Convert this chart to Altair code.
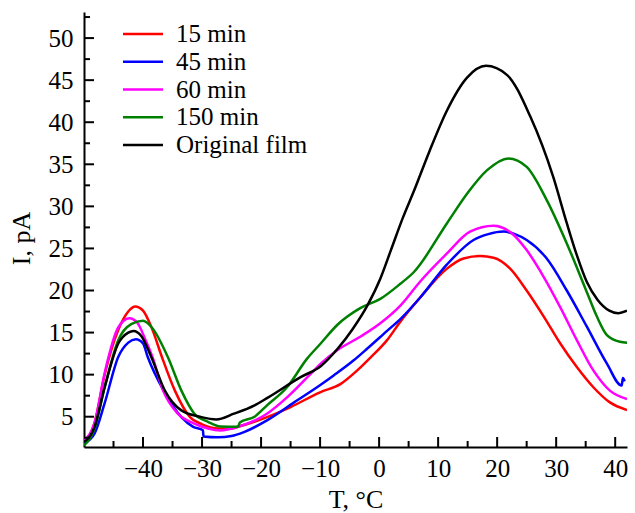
import altair as alt
import pandas as pd

series_names = ["15 min", "45 min", "60 min", "150 min", "Original film"]
series_colors = ["#ff0000", "#0000ff", "#ff00ff", "#008000", "#000000"]

t_15 = [-50, -48.2, -46.5, -44.2, -42.5, -41.3, -40, -38.5, -36.8, -34.6, -32.1, -30, -27.3, -25, -23.9,
        -19, -15, -10, -6.5, -3.7, -1.5, 1.35, 3.6, 7.0, 11.5, 14.3, 17.1, 19.4, 22.2, 25.0, 27.9,
        30.7, 33.5, 36.3, 39.1, 42.0]
i_15 = [2.0, 4.3, 10.0, 15.3, 17.5, 18.1, 17.6, 15.5, 12.1, 8.1, 5.0, 4.1, 3.6, 3.6, 3.8,
        4.95, 6.15, 7.9, 8.9, 10.5, 12.0, 14.1, 16.3, 19.2, 22.6, 23.8, 24.1, 23.9, 22.6, 20.0, 16.9,
        13.7, 10.9, 8.5, 6.7, 5.8]

t_45 = [-50, -48.2, -46.5, -44.2, -42.5, -41.2, -40, -39.2, -36.5, -33.5, -31.5, -29.85, -29.75, -27.3, -25,
        -22.9, -19, -14.4, -9.9, -7.7, -4.3, -2.0, 1.35, 3.6, 7.0, 11.5, 16.0, 18.5, 21.1, 23, 25.0,
        28.4, 31.8, 35.2, 38.6, 41.1, 41.3, 41.6]
i_45 = [1.8, 3.0, 6.6, 12.1, 13.8, 14.2, 13.7, 12.1, 8.1, 4.95, 3.8, 3.4, 2.65, 2.55, 2.7,
        3.17, 4.56, 6.7, 8.8, 9.9, 11.7, 13.1, 15.2, 16.6, 19.2, 23.1, 26.0, 26.7, 27.0, 26.7, 26.0,
        23.8, 20.0, 15.7, 11.3, 8.7, 9.6, 9.2]

t_60 = [-50, -48.2, -46.5, -44.2, -42.3, -41, -39.5, -38.4, -36.6, -34.1, -31.3, -29, -26.9, -23.9,
        -19, -15.6, -11.6, -9.9, -7.1, -3.2, 0.2, 3.6, 7.0, 11.5, 15.4, 19.4, 22.8, 25.0, 27.9,
        30.7, 33.5, 36.3, 39.1, 42.0]
i_60 = [2.2, 4.3, 10.2, 15.6, 16.7, 16.2, 14.0, 12.1, 8.1, 5.36, 4.17, 3.6, 3.37, 3.8,
        5.36, 7.3, 10.1, 11.3, 12.9, 14.5, 16.1, 18.2, 21.1, 24.4, 27.0, 27.7, 26.6, 24.8, 21.6,
        18.0, 14.1, 10.5, 8.1, 7.1]

t_150 = [-50, -48.2, -46.5, -44.2, -42, -40.0, -38.5, -35.8, -33.5, -31.3, -29, -26.9, -23.9, -23.6,
         -21.1, -19, -15.6, -12.2, -9.9, -7.1, -3.2, 0.2, 3.6, 5.9, 11.5, 14.9, 18.3, 21.9, 25.0,
         28.4, 31.8, 35.2, 36.9, 38.6, 40.8, 42.0]
i_150 = [1.6, 3.6, 8.5, 14.1, 16.0, 16.4, 15.6, 12.1, 8.1, 5.36, 4.4, 3.85, 3.8, 4.3,
         5.0, 6.35, 8.5, 11.9, 13.7, 15.9, 17.9, 19.0, 20.8, 22.2, 28.0, 31.5, 34.3, 35.7, 34.7,
         30.75, 25.6, 19.8, 16.9, 14.7, 13.9, 13.8]

t_orig = [-50, -48.2, -46.5, -44.2, -42.5, -41.6, -40.3, -38.6, -36.3, -33.5, -30.1, -27.6, -24.6,
          -21.1, -19.0, -13.3, -9.9, -7.0, -4.5, -2.0, 0.2, 2.0, 4.0, 6.0, 8.5, 11.5, 14.9,
          18.1, 21.7, 25.6, 29.5, 31.8, 33.5, 35.2, 37.0, 39.0, 40.5, 42.0]
i_orig = [2.0, 3.8, 8.5, 13.7, 15.0, 15.2, 14.6, 12.1, 8.1, 5.75, 4.95, 4.68, 5.36,
          6.35, 7.2, 9.7, 11.0, 13.1, 15.4, 18.2, 21.4, 24.8, 28.6, 32.0, 36.5, 41.4, 45.3,
          46.7, 45.6, 40.7, 33.5, 28.0, 24.2, 21.0, 18.9, 17.6, 17.3, 17.6]

x_major = [-40, -30, -20, -10, 0, 10, 20, 30, 40]
x_minor = [-45, -35, -25, -15, -5, 5, 15, 25, 35]
y_major = [5, 10, 15, 20, 25, 30, 35, 40, 45, 50]
y_minor = [2.5, 7.5, 12.5, 17.5, 22.5, 27.5, 32.5, 37.5, 42.5, 47.5, 52.5]

rows = []
for name, ts, vs in zip(series_names, [t_15, t_45, t_60, t_150, t_orig],
                        [i_15, i_45, i_60, i_150, i_orig]):
    for k, (t, v) in enumerate(zip(ts, vs)):
        rows.append({"series": name, "T": t, "I": v, "idx": k})
df = pd.DataFrame(rows)

W, H = 543, 435
FONT = "Liberation Serif"

x_scale = alt.Scale(domain=[-50, 42], nice=False, zero=False)
y_scale = alt.Scale(domain=[1.4, 53.1], nice=False, zero=False)

x_axis = alt.Axis(values=x_major, ticks=False, grid=False, title="T, °C",
                  labelFont=FONT, labelFontSize=25, labelColor="black", labelPadding=9,
                  domainColor="black", domainWidth=2,
                  titleFont=FONT, titleFontSize=26, titleFontWeight="normal",
                  titleColor="black", titleBaseline="alphabetic", titleY=60,
                  titleX=W / 2, titleAlign="center")
y_axis = alt.Axis(values=y_major, ticks=False, grid=False, title="I, pA",
                  labelFont=FONT, labelFontSize=25, labelColor="black", labelPadding=11,
                  domainColor="black", domainWidth=2,
                  titleFont=FONT, titleFontSize=26, titleFontWeight="normal",
                  titleColor="black", titleBaseline="alphabetic", titleAngle=270,
                  titleX=-55, titleY=226, titleAlign="center")

lines = alt.Chart(df).mark_line(strokeWidth=2.5, clip=True, interpolate="monotone").encode(
    x=alt.X("T:Q", scale=x_scale, axis=x_axis),
    y=alt.Y("I:Q", scale=y_scale, axis=y_axis),
    color=alt.Color("series:N",
                    scale=alt.Scale(domain=series_names, range=series_colors),
                    legend=alt.Legend(title=None, orient="none", legendX=37.5, legendY=9.5,
                                      symbolType="stroke", symbolSize=1600, symbolStrokeWidth=2.5,
                                      clipHeight=25, rowPadding=1.75, padding=0,
                                      labelFont=FONT, labelFontSize=25, labelColor="black",
                                      labelOffset=11.5, labelLimit=400)),
    order=alt.Order("idx:Q"),
)

xmaj = alt.Chart(pd.DataFrame({"T": x_major})).mark_rule(color="black", strokeWidth=2).encode(
    x=alt.X("T:Q", scale=x_scale, axis=x_axis), y=alt.value(H), y2=alt.value(H - 10))
xmin = alt.Chart(pd.DataFrame({"T": x_minor})).mark_rule(color="black", strokeWidth=2).encode(
    x=alt.X("T:Q", scale=x_scale, axis=x_axis), y=alt.value(H), y2=alt.value(H - 6))
ymaj = alt.Chart(pd.DataFrame({"I": y_major})).mark_rule(color="black", strokeWidth=2).encode(
    y=alt.Y("I:Q", scale=y_scale, axis=y_axis), x=alt.value(0), x2=alt.value(10))
ymin = alt.Chart(pd.DataFrame({"I": y_minor})).mark_rule(color="black", strokeWidth=2).encode(
    y=alt.Y("I:Q", scale=y_scale, axis=y_axis), x=alt.value(0), x2=alt.value(6))

chart = alt.layer(lines, xmaj, xmin, ymaj, ymin).properties(
    width=W, height=H,
    padding={"left": 84, "top": 12, "right": 8, "bottom": 66},
    autosize=alt.AutoSizeParams(type="none"),
    background="white",
).configure_view(stroke=None)

chart.save("out.html", embed_options={"renderer": "svg", "actions": False})
